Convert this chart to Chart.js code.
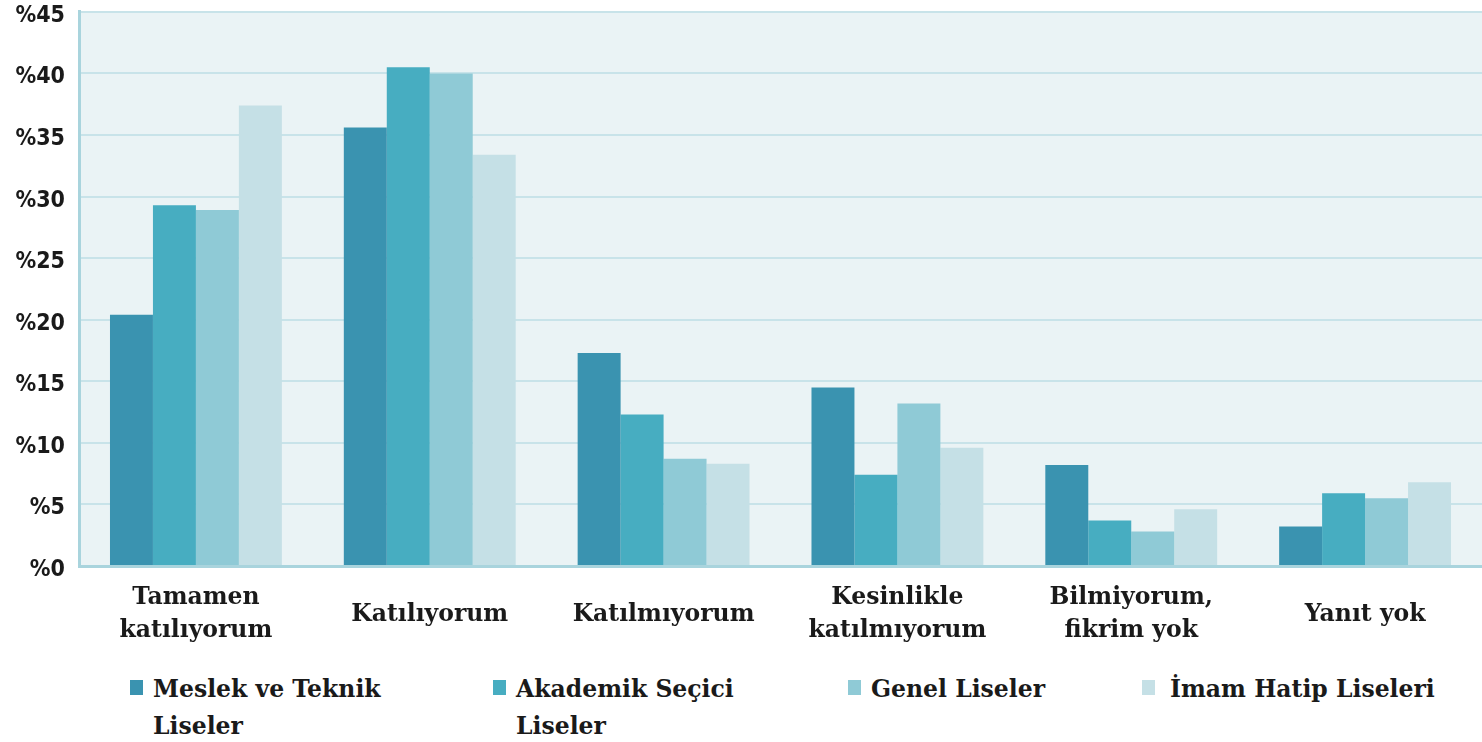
<!DOCTYPE html>
<html>
<head>
<meta charset="utf-8">
<script src="https://cdn.jsdelivr.net/npm/chart.js@4"></script>
<style>
  html, body { margin: 0; padding: 0; background: #fff; overflow: hidden; }
  #wrap { position: relative; width: 1482px; height: 742px; overflow: hidden; }
  #chartBox { position: absolute; left: 0; top: -16px; width: 1482px; height: 676px; }
  #legend { position: absolute; left: 0; top: 671px; width: 1482px; height: 71px; }
  .item { position: absolute; top: 0; display: flex; align-items: flex-start;
          font-family: "DejaVu Serif", serif; font-weight: bold; font-size: 23.5px;
          line-height: 37px; color: #1a1a1a; }
  .sw { width: 13px; height: 15px; margin-top: 9px; margin-right: 10px; flex: none; }
</style>
</head>
<body>
<div id="wrap">
  <div id="chartBox"><canvas id="chart"></canvas></div>
  <div id="legend"></div>
</div>
<script>
const categories = [
  ['Tamamen', 'katılıyorum'],
  'Katılıyorum',
  'Katılmıyorum',
  ['Kesinlikle', 'katılmıyorum'],
  ['Bilmiyorum,', 'fikrim yok'],
  'Yanıt yok'
];
const seriesNames = ['Meslek ve Teknik Liseler', 'Akademik Seçici Liseler', 'Genel Liseler', 'İmam Hatip Liseleri'];
const meslek   = [20.4, 35.6, 17.3, 14.5, 8.2, 3.2];
const akademik = [29.3, 40.5, 12.3, 7.4, 3.7, 5.9];
const genel    = [28.9, 40.0, 8.7, 13.2, 2.8, 5.5];
const imam     = [37.4, 33.4, 8.3, 9.6, 4.6, 6.8];
const yTicks = [0, 5, 10, 15, 20, 25, 30, 35, 40, 45];

const colors = ['#3a93b0', '#47adc1', '#8fcad6', '#c5e0e6'];
const values = [meslek, akademik, genel, imam];

// plot background
const bgPlugin = {
  id: 'plotBg',
  beforeDraw(chart) {
    const { ctx, chartArea: a } = chart;
    ctx.save();
    ctx.fillStyle = '#eaf3f5';
    ctx.fillRect(a.left, a.top, a.right - a.left, a.bottom - a.top);
    ctx.restore();
  }
};

new Chart(document.getElementById('chart'), {
  type: 'bar',
  data: {
    labels: categories,
    datasets: seriesNames.map((name, i) => ({
      label: name,
      data: values[i],
      backgroundColor: colors[i],
      borderWidth: 0,
      categoryPercentage: 0.735,
      barPercentage: 1
    }))
  },
  options: {
    responsive: true,
    maintainAspectRatio: false,
    animation: false,
    layout: { padding: { top: 11, right: 0, left: 0, bottom: 0 } },
    plugins: {
      legend: { display: false },
      tooltip: { enabled: false }
    },
    scales: {
      x: {
        grid: { display: false, drawTicks: false },
        border: { color: '#a9d4dd', width: 3 },
        ticks: {
          color: '#1a1a1a',
          padding: 32,
          crossAlign: 'center',
          font: { family: '"DejaVu Serif", serif', weight: 'bold', size: 23.5, lineHeight: 1.4 },
          maxRotation: 0,
          autoSkip: false
        },
        afterFit(scale) { scale.height = 94; }
      },
      y: {
        min: 0,
        max: 45,
        afterBuildTicks(scale) { scale.ticks = yTicks.map(v => ({ value: v })); },
        grid: { color: '#c8e3e9', lineWidth: 2, drawTicks: false },
        border: { color: '#a9d4dd', width: 3 },
        ticks: {
          color: '#1a1a1a',
          padding: 14,
          labelOffset: 4,
          font: { family: '"DejaVu Sans Condensed", "DejaVu Sans", sans-serif', weight: 'bold', size: 23 },
          callback: v => '%' + v
        },
        afterFit(scale) { scale.width = 79; }
      }
    }
  },
  plugins: [bgPlugin]
});

// legend
const legendLeft = [130, 493, 848, 1142];
const legendTextWidth = [245, 240, 320, 330];
const legend = document.getElementById('legend');
seriesNames.forEach((name, i) => {
  const it = document.createElement('div');
  it.className = 'item';
  it.style.left = legendLeft[i] + 'px';
  const sw = document.createElement('span');
  sw.className = 'sw';
  sw.style.background = colors[i];
  if (i === 3) sw.style.marginRight = '15px';
  const tx = document.createElement('span');
  tx.textContent = name;
  tx.style.width = legendTextWidth[i] + 'px';
  it.appendChild(sw);
  it.appendChild(tx);
  legend.appendChild(it);
});
</script>
</body>
</html>
